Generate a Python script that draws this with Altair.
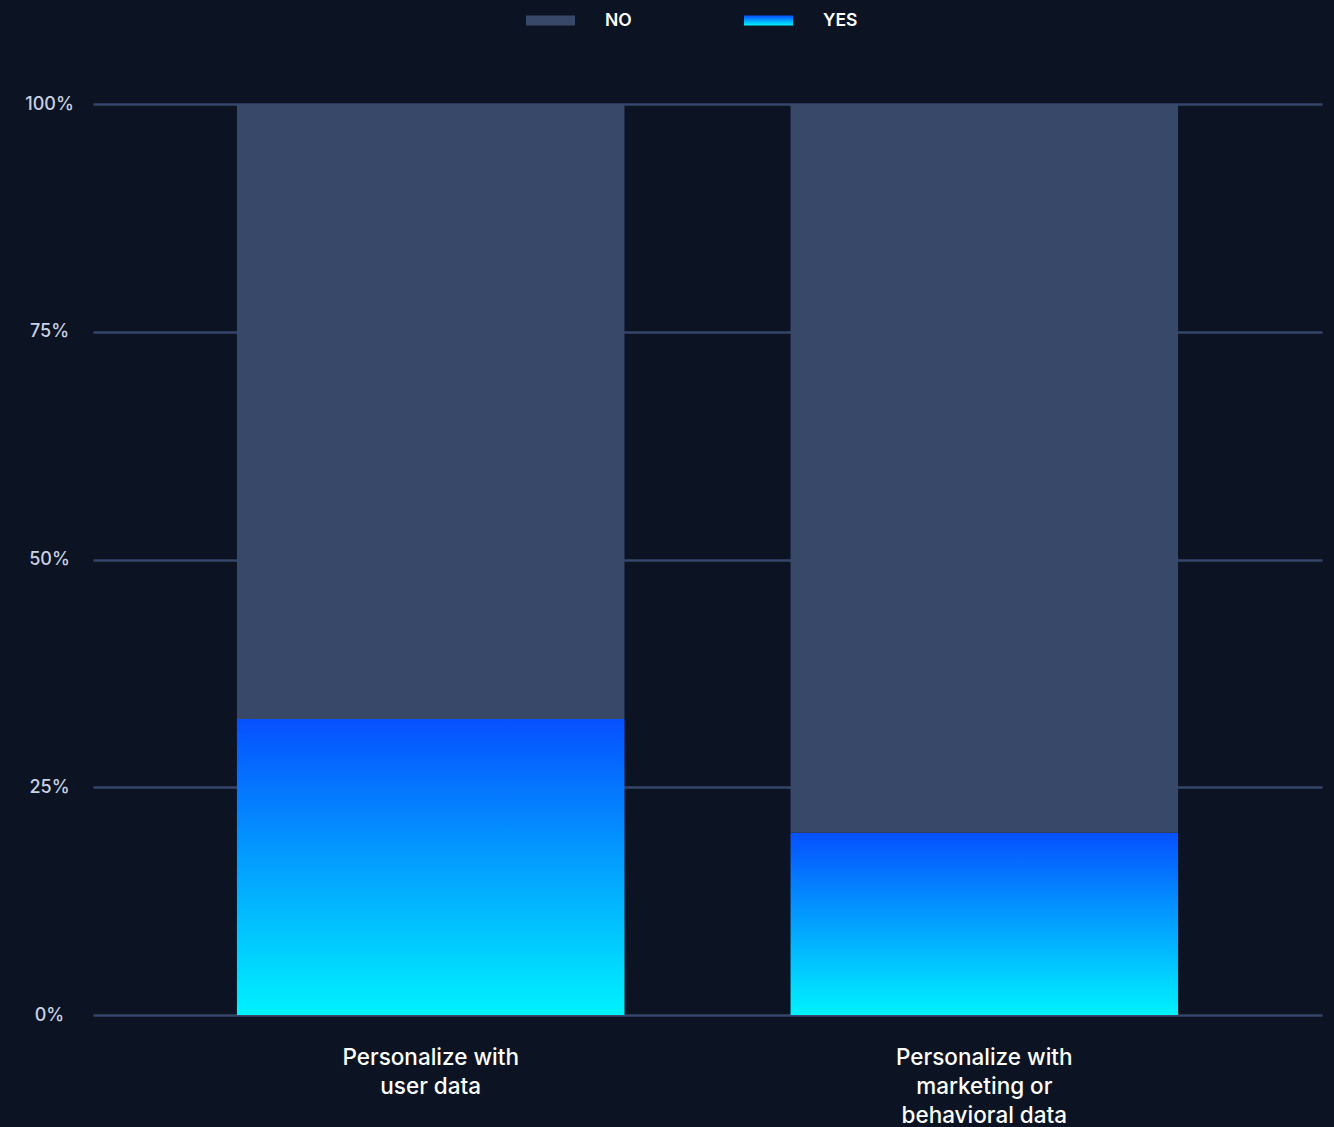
import altair as alt
import pandas as pd

# Share of respondents per personalization approach
categories = [
    "Personalize with\nuser data",
    "Personalize with\nmarketing or\nbehavioral data",
]
answers = ["NO", "YES"]
yes_share = [32.5, 20.0]
no_share = [67.5, 80.0]

rows = []
for cat, y, n in zip(categories, yes_share, no_share):
    rows.append({"category": cat, "answer": "YES", "share": y, "order": 0})
    rows.append({"category": cat, "answer": "NO", "share": n, "order": 1})
df = pd.DataFrame(rows)

BG = "#0c1424"
NO_COLOR = "#384868"
GRID = "#36466a"
FONT = "Inter"

yes_gradient = (
    "{gradient: 'linear', x1: 0, y1: 0, x2: 0, y2: 1, "
    "stops: [{offset: 0, color: '#0650ff'}, {offset: 1, color: '#00f2ff'}]}"
)

chart = (
    alt.Chart(df)
    .mark_bar()
    .encode(
        x=alt.X(
            "category:N",
            sort=categories,
            title=None,
            scale=alt.Scale(paddingInner=0.3, paddingOuter=0.26),
            axis=alt.Axis(
                labelExpr="split(datum.value, '\\n')",
                labelAngle=0,
                labelColor="#ffffff",
                labelFont=FONT,
                labelFontSize=22.5,
                labelFontWeight=500,
                labelLineHeight=29,
                labelPadding=31,
                labelBaseline="top",
                domain=False,
                ticks=False,
                grid=False,
            ),
        ),
        y=alt.Y(
            "share:Q",
            stack="zero",
            title=None,
            scale=alt.Scale(domain=[0, 100], nice=False),
            axis=alt.Axis(
                values=[0, 25, 50, 75, 100],
                labelExpr="datum.value + '%'",
                labelColor="#c9d1e3",
                labelFont=FONT,
                labelFontSize=18,
                labelFontWeight=500,
                labelAlign="center",
                labelPadding=44,
                domain=False,
                ticks=False,
                grid=True,
                gridColor=GRID,
                gridWidth=2.5,
            ),
        ),
        color=alt.Color(
            "answer:N",
            scale=alt.Scale(domain=answers, range=[NO_COLOR, {"expr": yes_gradient}]),
            legend=alt.Legend(
                title=None,
                orient="none",
                direction="horizontal",
                legendX=433,
                legendY=-108,
                symbolType="M-1,-0.2H1V0.2H-1Z",
                symbolSize=2401,
                symbolStrokeWidth=0,
                labelColor="#ffffff",
                labelFont=FONT,
                labelFontSize=17.5,
                labelFontWeight=600,
                labelOffset=30,
                columnPadding=112,
            ),
        ),
        order=alt.Order("order:Q"),
    )
    .properties(
        width=1229,
        height=911,
        background=BG,
        padding={"left": 93, "top": 104, "right": 12, "bottom": 112},
        autosize=alt.AutoSizeParams(type="none"),
    )
    .configure_view(stroke=None)
)

chart.save("out.html", embed_options={"renderer": "svg", "actions": False})
